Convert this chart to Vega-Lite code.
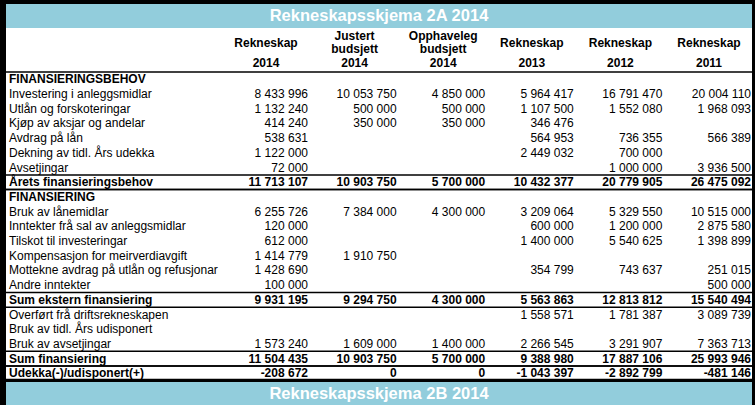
{
  "$schema": "https://vega.github.io/schema/vega-lite/v6.json",
  "background": "black",
  "padding": {"left": 4, "top": 4, "right": 5, "bottom": 0},
  "config": {
    "view": {"stroke": null},
    "locale": {"number": {"decimal": ",", "thousands": " ", "grouping": [3], "currency": ["", " kr"], "minus": "-"}},
    "text": {"font": "Liberation Sans", "fontSize": 12, "color": "black"}
  },
  "datasets": {
    "rows": [
      {"label": "FINANSIERINGSBEHOV", "type": "section"},
      {"label": "Investering i anleggsmidlar", "type": "item", "R2014": 8433996, "JB2014": 10053750, "OB2014": 4850000, "R2013": 5964417, "R2012": 16791470, "R2011": 20004110},
      {"label": "Utlån og forskoteringar", "type": "item", "R2014": 1132240, "JB2014": 500000, "OB2014": 500000, "R2013": 1107500, "R2012": 1552080, "R2011": 1968093},
      {"label": "Kjøp av aksjar og andelar", "type": "item", "R2014": 414240, "JB2014": 350000, "OB2014": 350000, "R2013": 346476},
      {"label": "Avdrag på lån", "type": "item", "R2014": 538631, "R2013": 564953, "R2012": 736355, "R2011": 566389},
      {"label": "Dekning av tidl. Års udekka", "type": "item", "R2014": 1122000, "R2013": 2449032, "R2012": 700000},
      {"label": "Avsetjingar", "type": "item", "R2014": 72000, "R2012": 1000000, "R2011": 3936500},
      {"label": "Årets finansieringsbehov", "type": "total", "R2014": 11713107, "JB2014": 10903750, "OB2014": 5700000, "R2013": 10432377, "R2012": 20779905, "R2011": 26475092},
      {"label": "FINANSIERING", "type": "section"},
      {"label": "Bruk av lånemidlar", "type": "item", "R2014": 6255726, "JB2014": 7384000, "OB2014": 4300000, "R2013": 3209064, "R2012": 5329550, "R2011": 10515000},
      {"label": "Inntekter frå sal av anleggsmidlar", "type": "item", "R2014": 120000, "R2013": 600000, "R2012": 1200000, "R2011": 2875580},
      {"label": "Tilskot til investeringar", "type": "item", "R2014": 612000, "R2013": 1400000, "R2012": 5540625, "R2011": 1398899},
      {"label": "Kompensasjon for meirverdiavgift", "type": "item", "R2014": 1414779, "JB2014": 1910750},
      {"label": "Mottekne avdrag på utlån og refusjonar", "type": "item", "R2014": 1428690, "R2013": 354799, "R2012": 743637, "R2011": 251015},
      {"label": "Andre inntekter", "type": "item", "R2014": 100000, "R2011": 500000},
      {"label": "Sum ekstern finansiering", "type": "total", "R2014": 9931195, "JB2014": 9294750, "OB2014": 4300000, "R2013": 5563863, "R2012": 12813812, "R2011": 15540494},
      {"label": "Overført frå driftsrekneskapen", "type": "item", "R2013": 1558571, "R2012": 1781387, "R2011": 3089739},
      {"label": "Bruk av tidl. Års udisponert", "type": "item"},
      {"label": "Bruk av avsetjingar", "type": "item", "R2014": 1573240, "JB2014": 1609000, "OB2014": 1400000, "R2013": 2266545, "R2012": 3291907, "R2011": 7363713},
      {"label": "Sum finansiering", "type": "total", "R2014": 11504435, "JB2014": 10903750, "OB2014": 5700000, "R2013": 9388980, "R2012": 17887106, "R2011": 25993946},
      {"label": "Udekka(-)/udisponert(+)", "type": "total", "R2014": -208672, "JB2014": 0, "OB2014": 0, "R2013": -1043397, "R2012": -2892799, "R2011": -481146}
    ],
    "headers": [
      {"col": "R2014", "top": "Rekneskap", "year": "2014"},
      {"col": "JB2014", "top": "Justert\nbudsjett", "year": "2014"},
      {"col": "OB2014", "top": "Opphaveleg\nbudsjett", "year": "2014"},
      {"col": "R2013", "top": "Rekneskap", "year": "2013"},
      {"col": "R2012", "top": "Rekneskap", "year": "2012"},
      {"col": "R2011", "top": "Rekneskap", "year": "2011"}
    ]
  },
  "spacing": 0,
  "bounds": "flush",
  "vconcat": [
    {
      "width": 746,
      "height": 24,
      "view": {"fill": "#92CDDC", "stroke": null},
      "data": {"values": [{"title": "Rekneskapsskjema 2A 2014"}]},
      "mark": {"type": "text", "font": "Liberation Sans", "fontSize": 16.5, "fontWeight": "bold", "color": "white", "baseline": "middle"},
      "encoding": {"text": {"field": "title", "type": "nominal"}}
    },
    {
      "width": 746,
      "height": 354,
      "view": {"fill": "white", "stroke": null},
      "resolve": {"scale": {"x": "independent"}},
      "layer": [
        {
          "data": {"name": "rows"},
          "encoding": {
            "x": {"datum": "Post", "type": "nominal", "scale": {"type": "point", "domain": ["Post"], "range": [3, 3]}, "axis": null},
            "y": {"field": "label", "type": "nominal", "axis": null,
              "scale": {"type": "band", "paddingInner": 0, "paddingOuter": 0, "range": [14.6, 352.7],
                "domain": ["top", "year", "FINANSIERINGSBEHOV", "Investering i anleggsmidlar", "Utlån og forskoteringar", "Kjøp av aksjar og andelar", "Avdrag på lån", "Dekning av tidl. Års udekka", "Avsetjingar", "Årets finansieringsbehov", "FINANSIERING", "Bruk av lånemidlar", "Inntekter frå sal av anleggsmidlar", "Tilskot til investeringar", "Kompensasjon for meirverdiavgift", "Mottekne avdrag på utlån og refusjonar", "Andre inntekter", "Sum ekstern finansiering", "Overført frå driftsrekneskapen", "Bruk av tidl. Års udisponert", "Bruk av avsetjingar", "Sum finansiering", "Udekka(-)/udisponert(+)"]}},
            "text": {"field": "label", "type": "nominal"}
          },
          "layer": [
            {"transform": [{"filter": "datum.type == 'item'"}], "mark": {"type": "text", "align": "left", "baseline": "middle", "font": "Liberation Sans", "fontSize": 12}},
            {"transform": [{"filter": "datum.type != 'item'"}], "mark": {"type": "text", "align": "left", "baseline": "middle", "font": "Liberation Sans", "fontSize": 12, "fontWeight": "bold"}}
          ]
        },
        {
          "layer": [
            {
              "data": {"name": "rows"},
              "transform": [{"filter": "datum.type != 'item'"}],
              "mark": {"type": "rule", "color": "black", "strokeWidth": 1.5},
              "encoding": {"y": {"field": "label", "type": "nominal", "bandPosition": 0, "axis": null}}
            },
            {
              "data": {"name": "rows"},
              "transform": [{"filter": "datum.type == 'total' && datum.label != 'Udekka(-)/udisponert(+)'"}],
              "mark": {"type": "rule", "color": "black", "strokeWidth": 1.5},
              "encoding": {"y": {"field": "label", "type": "nominal", "bandPosition": 1, "axis": null}}
            },
            {
              "data": {"name": "rows"},
              "transform": [{"filter": "datum.label == 'Udekka(-)/udisponert(+)'"}],
              "mark": {"type": "rule", "color": "black", "strokeWidth": 4},
              "encoding": {"y": {"field": "label", "type": "nominal", "bandPosition": 1, "axis": null}}
            },
            {
              "data": {"name": "rows"},
              "transform": [
                {"fold": ["R2014", "JB2014", "OB2014", "R2013", "R2012", "R2011"], "as": ["col", "value"]},
                {"filter": "isValid(datum.value)"}
              ],
              "encoding": {
                "x": {"field": "col", "type": "nominal", "axis": null, "scale": {"type": "point", "padding": 0, "range": [260, 703], "domain": ["R2014", "JB2014", "OB2014", "R2013", "R2012", "R2011"]}},
                "y": {"field": "label", "type": "nominal", "axis": null},
                "text": {"field": "value", "type": "quantitative", "format": ",d"}
              },
              "layer": [
                {"transform": [{"filter": "datum.type == 'item'"}], "mark": {"type": "text", "align": "right", "dx": 42, "baseline": "middle", "font": "Liberation Sans", "fontSize": 12}},
                {"transform": [{"filter": "datum.type != 'item'"}], "mark": {"type": "text", "align": "right", "dx": 42, "baseline": "middle", "font": "Liberation Sans", "fontSize": 12, "fontWeight": "bold"}}
              ]
            },
            {
              "data": {"name": "headers"},
              "transform": [{"fold": ["top", "year"], "as": ["part", "txt"]}],
              "encoding": {
                "x": {"field": "col", "type": "nominal", "axis": null},
                "y": {"field": "part", "type": "nominal", "axis": null},
                "text": {"field": "txt", "type": "nominal"}
              },
              "layer": [
                {"transform": [{"filter": "datum.part == 'top' && indexof(datum.txt, '\\n') < 0"}], "mark": {"type": "text", "align": "center", "baseline": "middle", "dy": -7, "font": "Liberation Sans", "fontSize": 12, "fontWeight": "bold"}},
                {"transform": [{"filter": "datum.part == 'top' && indexof(datum.txt, '\\n') >= 0"}], "mark": {"type": "text", "align": "center", "baseline": "middle", "dy": -14, "lineBreak": "\n", "lineHeight": 13.5, "font": "Liberation Sans", "fontSize": 12, "fontWeight": "bold"}},
                {"transform": [{"filter": "datum.part == 'year'"}], "mark": {"type": "text", "align": "center", "baseline": "middle", "dy": -1.5, "font": "Liberation Sans", "fontSize": 12, "fontWeight": "bold"}}
              ]
            }
          ]
        }
      ]
    },
    {
      "width": 746,
      "height": 23,
      "view": {"fill": "#92CDDC", "stroke": null},
      "data": {"values": [{"title": "Rekneskapsskjema 2B 2014"}]},
      "mark": {"type": "text", "font": "Liberation Sans", "fontSize": 16.5, "fontWeight": "bold", "color": "white", "baseline": "middle"},
      "encoding": {"text": {"field": "title", "type": "nominal"}}
    }
  ]
}
